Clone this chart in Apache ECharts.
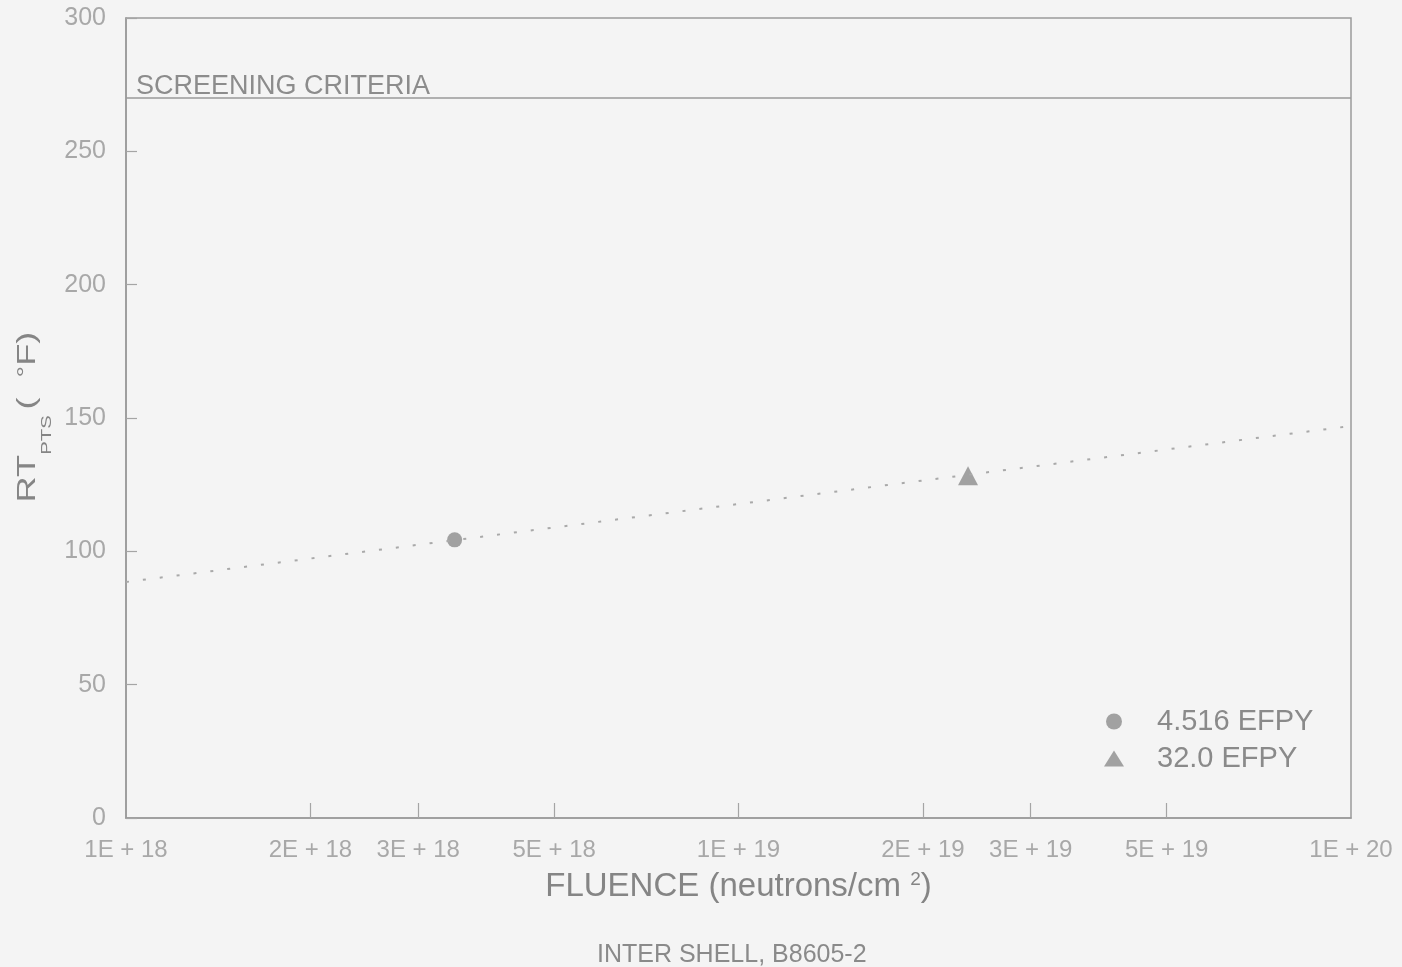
<!DOCTYPE html>
<html>
<head>
<meta charset="utf-8">
<script src="https://cdn.jsdelivr.net/npm/echarts@6/dist/echarts.min.js"></script>
<style>
  html, body { margin: 0; padding: 0; background: #f4f4f4; }
  #chart { width: 1402px; height: 967px; }
</style>
</head>
<body>
<div id="chart"></div>
<script>
// fluence (neutrons/cm^2) and RT_PTS (deg F)
const efpy4516Fluence = [3.44e18]
const efpy4516RT = [104.3]
const efpy32Fluence = [2.37e19]
const efpy32RT = [128.3]
const trendFluence = [1e18, 1e20]
const trendRT = [88.5, 147]
const screeningRT = 270

const xTickValues = [1e18, 2e18, 3e18, 5e18, 1e19, 2e19, 3e19, 5e19, 1e20]
const xTickLabels = ['1E + 18', '2E + 18', '3E + 18', '5E + 18', '1E + 19', '2E + 19', '3E + 19', '5E + 19', '1E + 20']
const yTicks = [0, 50, 100, 150, 200, 250, 300]

const FONT = "'Liberation Sans', Arial, sans-serif"
const lg = Math.log10
const pts = (xs, ys) => xs.map((x, i) => [lg(x), ys[i]])

const chart = echarts.init(document.getElementById('chart'))

chart.setOption({
  backgroundColor: '#f4f4f4',
  animation: false,
  textStyle: { fontFamily: FONT },
  grid: {
    left: 126, right: 51, top: 18, bottom: 149,
    show: true, borderColor: '#9a9a9a', borderWidth: 1.5, backgroundColor: 'transparent',
  },
  legend: {
    orient: 'vertical',
    left: 1104, top: 707,
    itemWidth: 20, itemHeight: 16, itemGap: 8,
    padding: 0,
    textStyle: { fontSize: 29, color: '#8a8a8a', fontFamily: FONT, padding: [0, 0, 0, 28] },
    data: [
      { name: '4.516 EFPY', icon: 'circle' },
      { name: '32.0 EFPY', icon: 'triangle' },
    ],
  },
  xAxis: {
    type: 'value',
    min: lg(xTickValues[0]), max: lg(xTickValues[xTickValues.length - 1]),
    name: '{a|FLUENCE (neutrons/cm }{u|2}{a|)}',
    nameLocation: 'middle',
    nameGap: 52,
    nameTextStyle: {
      rich: {
        a: { fontSize: 33, color: '#858585', fontFamily: FONT, lineHeight: 38, verticalAlign: 'top' },
        u: { fontSize: 19, color: '#858585', fontFamily: FONT, lineHeight: 20, verticalAlign: 'top' },
      },
    },
    axisLine: { show: true, lineStyle: { color: '#9a9a9a', width: 1.5 } },
    axisTick: {
      show: true, inside: true, length: 15,
      customValues: xTickValues.slice(1, -1).map(lg),
      lineStyle: { color: '#a5a5a5', width: 1.2 },
    },
    axisLabel: {
      customValues: xTickValues.map(lg),
      margin: 20,
      fontSize: 24,
      color: '#a8a8a8',
      fontFamily: FONT,
      formatter: v => {
        const i = xTickValues.findIndex(t => Math.abs(lg(t) - v) < 1e-6)
        return i >= 0 ? xTickLabels[i] : ''
      },
    },
    splitLine: { show: false },
  },
  yAxis: {
    type: 'value',
    min: 0, max: 300, interval: 50,
    axisLine: { show: true, lineStyle: { color: '#9a9a9a', width: 1.5 } },
    axisTick: {
      show: true, inside: true, length: 11,
      customValues: yTicks,
      lineStyle: { color: '#a5a5a5', width: 1.2 },
    },
    axisLabel: {
      customValues: yTicks,
      margin: 20,
      fontSize: 25,
      color: '#a8a8a8',
      fontFamily: FONT,
      padding: [8, 0, 0, 0],
    },
    splitLine: { show: false },
  },
  series: [
    {
      name: 'trend',
      type: 'line',
      data: pts(trendFluence, trendRT),
      symbol: 'none',
      silent: true,
      lineStyle: { color: '#a9a9a9', width: 2, type: [3, 14] },
      markLine: {
        silent: true,
        symbol: ['none', 'none'],
        lineStyle: { type: 'solid', color: '#9a9a9a', width: 1.5 },
        label: {
          position: 'insideStartTop',
          formatter: 'SCREENING CRITERIA',
          fontSize: 27,
          color: '#8c8c8c',
          fontFamily: FONT,
          distance: [10, -2],
        },
        data: [{ yAxis: screeningRT }],
      },
    },
    {
      name: '4.516 EFPY',
      type: 'scatter',
      symbol: 'circle',
      symbolSize: 15,
      itemStyle: { color: '#8c8c8c' },
      data: pts(efpy4516Fluence, efpy4516RT),
    },
    {
      name: '32.0 EFPY',
      type: 'scatter',
      symbol: 'triangle',
      symbolSize: [20, 19],
      itemStyle: { color: '#8c8c8c' },
      data: pts(efpy32Fluence, efpy32RT),
    },
  ],
  graphic: [
    {
      // y axis title, stretched along its length like the scanned lettering
      type: 'text',
      x: 31,
      y: 417,
      rotation: Math.PI / 2,
      scaleX: 1.45,
      style: {
        text: '{a|RT}{s|PTS }{a|(  }{u|°}{a|F)}',
        align: 'center',
        verticalAlign: 'middle',
        rich: {
          a: { fontSize: 25, fill: '#858585', fontFamily: FONT, lineHeight: 30, verticalAlign: 'top' },
          s: { fontSize: 14, fill: '#858585', fontFamily: FONT, lineHeight: 14, padding: [24, 0, 0, 0], verticalAlign: 'top' },
          u: { fontSize: 20, fill: '#858585', fontFamily: FONT, lineHeight: 16, verticalAlign: 'top' },
        },
      },
    },
    {
      type: 'text',
      left: 597,
      top: 943,
      style: { text: 'INTER SHELL, B8605-2', fontSize: 25, fill: '#8a8a8a', fontFamily: FONT },
    },
  ],
})

window.addEventListener('resize', () => chart.resize())
</script>
</body>
</html>
